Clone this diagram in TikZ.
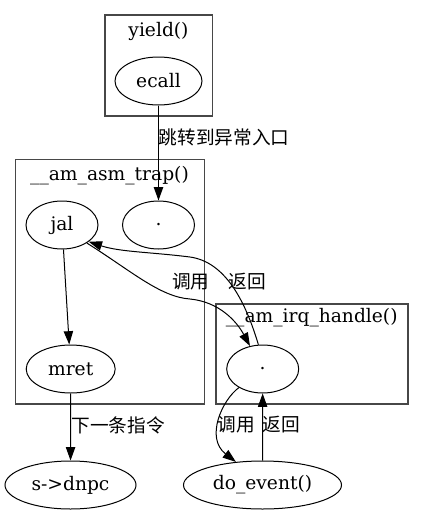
\documentclass[tikz,border=0pt]{standalone}
\usepackage{fontspec}
\setmainfont{DejaVu Serif}
\newfontfamily\cjk{Noto Sans CJK SC}
\usetikzlibrary{shapes.geometric,arrows.meta}
\begin{document}
\begin{tikzpicture}[x=0.75pt,y=-0.75pt,
  every node/.style={font=\fontsize{14pt}{17pt}\selectfont},
  ell/.style={draw,ellipse,inner sep=0pt,minimum height=36pt,line width=0.75pt},
  cluster/.style={draw=black!72,line width=1pt},
  lab/.style={inner sep=0pt,font=\fontsize{14pt}{17pt}\selectfont\cjk},
  clab/.style={inner sep=0pt},
  edge/.style={line width=0.75pt,-{Triangle[length=10pt,width=7pt]}}]
\useasboundingbox (0,0) rectangle (424,515);
% clusters
\draw[cluster] (105,15) rectangle (212.3,116);
\draw[cluster] (15.7,159.3) rectangle (204.7,404);
\draw[cluster] (216,304) rectangle (408,404);
\node[clab] (lyield) at (158.5,31) {yield()};
\node[clab] (ltrap) at (109.5,176) {\_\_am\_asm\_trap()};
\node[clab] (lirq) at (311.7,318) {\_\_am\_irq\_handle()};
% nodes
\node[ell,minimum width=65.25pt] (ecall) at (158.5,81) {ecall};
\node[ell,minimum width=54pt] (trapdot) at (158.5,225) {.};
\node[ell,minimum width=54pt] (jal) at (62,225) {jal};
\node[ell,minimum width=66.75pt] (mret) at (70.7,369) {mret};
\node[ell,minimum width=54pt] (irqdot) at (262.7,369) {.};
\node[ell,minimum width=98.25pt] (sdnpc) at (70.5,485) {s->dnpc};
\node[ell,minimum width=118.5pt] (doevent) at (262.5,485) {do\_event()};
% edge labels
\node[lab] (l1) at (224,137) {跳转到异常入口};
\node[lab] (l2) at (190.8,281.7) {调用};
\node[lab] (l3) at (247,281.7) {返回};
\node[lab] (l4) at (118,425) {下一条指令};
\node[lab] (l5) at (236,425) {调用};
\node[lab] (l6) at (281,425) {返回};
% edges
\draw[edge] (ecall) -- (trapdot);
\draw[edge] (jal) -- (mret);
\draw[edge] (jal.-36) .. controls (130,270) and (160,297) .. (190,299)
  .. controls (220,302) and (237,322) .. (irqdot.119);
\draw[edge] (irqdot.100) .. controls (245,300) and (225,262) .. (190,257)
  .. controls (150,252) and (120,252) .. (jal.-32);
\draw[edge] (irqdot.218) .. controls (222,400) and (205,438) .. (doevent.139);
\draw[edge] (doevent) -- (irqdot);
\draw[edge] (mret) -- (sdnpc);
\end{tikzpicture}
\end{document}
